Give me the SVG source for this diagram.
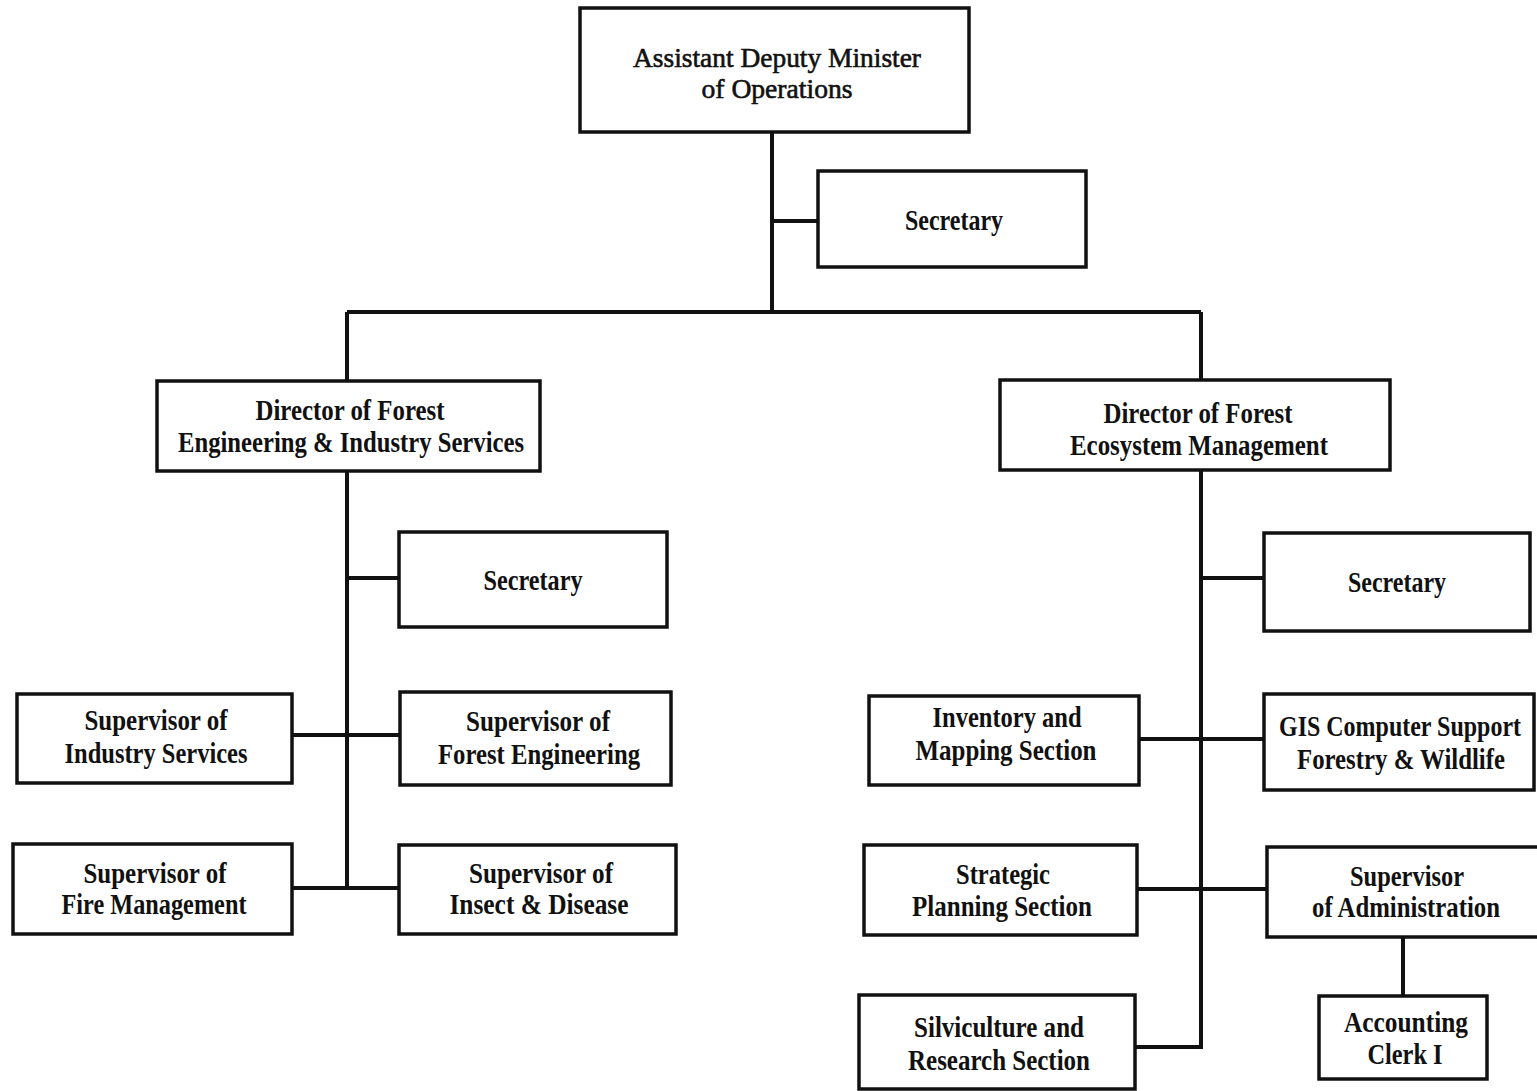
<svg xmlns="http://www.w3.org/2000/svg" width="1537" height="1091" viewBox="0 0 1537 1091">
  <style>
    .box { fill: #ffffff; stroke: #111111; stroke-width: 3.5; }
    .lbl { font-family: "Liberation Serif", "Times New Roman", serif; font-weight: bold; font-size: 29px; fill: #111111; text-anchor: middle; }
    .top { font-weight: normal; font-size: 27px; stroke: #111111; stroke-width: 0.6; }
    .tight { font-size: 24px; }
    .wire { fill: none; stroke: #111111; stroke-width: 4; }
  </style>
  <rect x="0" y="0" width="1537" height="1091" fill="#ffffff"/>

  <!-- reporting lines -->
  <g id="connectors">
    <path class="wire" d="M772 132 V312"/>
    <path class="wire" d="M772 221 H818"/>
    <path class="wire" d="M347 312 H1201"/>
    <path class="wire" d="M347 312 V381"/>
    <path class="wire" d="M1201 312 V380"/>
    <!-- left branch -->
    <path class="wire" d="M347 471 V888"/>
    <path class="wire" d="M347 578 H399"/>
    <path class="wire" d="M292 735 H400"/>
    <path class="wire" d="M292 888 H399"/>
    <!-- right branch -->
    <path class="wire" d="M1201 470 V1047 H1135"/>
    <path class="wire" d="M1201 578 H1264"/>
    <path class="wire" d="M1139 739 H1264"/>
    <path class="wire" d="M1137 889 H1267"/>
    <path class="wire" d="M1403 937 V996"/>
  </g>

  <g id="adm">
    <rect class="box" x="580" y="8" width="389" height="124"/>
    <text class="lbl top" x="777" y="67" textLength="288" lengthAdjust="spacingAndGlyphs">Assistant Deputy Minister</text>
    <text class="lbl top" x="777" y="98" textLength="151" lengthAdjust="spacingAndGlyphs">of Operations</text>
  </g>
  <g id="secretary-adm">
    <rect class="box" x="818" y="171" width="268" height="96"/>
    <text class="lbl" x="954" y="230" textLength="98" lengthAdjust="spacingAndGlyphs">Secretary</text>
  </g>

  <g id="director-engineering">
    <rect class="box" x="157" y="381" width="383" height="90"/>
    <text class="lbl" x="350" y="420" textLength="189" lengthAdjust="spacingAndGlyphs">Director of Forest</text>
    <text class="lbl" x="351" y="452" textLength="346" lengthAdjust="spacingAndGlyphs">Engineering &amp; Industry Services</text>
  </g>
  <g id="director-ecosystem">
    <rect class="box" x="1000" y="380" width="390" height="90"/>
    <text class="lbl" x="1198" y="423" textLength="189" lengthAdjust="spacingAndGlyphs">Director of Forest</text>
    <text class="lbl" x="1199" y="455" textLength="258" lengthAdjust="spacingAndGlyphs">Ecosystem Management</text>
  </g>

  <g id="secretary-engineering">
    <rect class="box" x="399" y="532" width="268" height="95"/>
    <text class="lbl" x="533" y="590" textLength="99" lengthAdjust="spacingAndGlyphs">Secretary</text>
  </g>
  <g id="industry-services">
    <rect class="box" x="17" y="694" width="275" height="89"/>
    <text class="lbl" x="156" y="730" textLength="143" lengthAdjust="spacingAndGlyphs">Supervisor of</text>
    <text class="lbl" x="156" y="763" textLength="183" lengthAdjust="spacingAndGlyphs">Industry Services</text>
  </g>
  <g id="forest-engineering">
    <rect class="box" x="400" y="692" width="271" height="93"/>
    <text class="lbl" x="538" y="731" textLength="144" lengthAdjust="spacingAndGlyphs">Supervisor of</text>
    <text class="lbl" x="539" y="764" textLength="202" lengthAdjust="spacingAndGlyphs">Forest Engineering</text>
  </g>
  <g id="fire-management">
    <rect class="box" x="13" y="844" width="279" height="90"/>
    <text class="lbl" x="155" y="883" textLength="143" lengthAdjust="spacingAndGlyphs">Supervisor of</text>
    <text class="lbl" x="154" y="914" textLength="185" lengthAdjust="spacingAndGlyphs">Fire Management</text>
  </g>
  <g id="insect-disease">
    <rect class="box" x="399" y="845" width="277" height="89"/>
    <text class="lbl" x="541" y="883" textLength="144" lengthAdjust="spacingAndGlyphs">Supervisor of</text>
    <text class="lbl" x="539" y="914" textLength="179" lengthAdjust="spacingAndGlyphs">Insect &amp; Disease</text>
  </g>

  <g id="secretary-ecosystem">
    <rect class="box" x="1264" y="533" width="266" height="98"/>
    <text class="lbl" x="1397" y="592" textLength="98" lengthAdjust="spacingAndGlyphs">Secretary</text>
  </g>
  <g id="inventory-mapping">
    <rect class="box" x="869" y="696" width="270" height="89"/>
    <text class="lbl" x="1007" y="727" textLength="149" lengthAdjust="spacingAndGlyphs">Inventory and</text>
    <text class="lbl" x="1006" y="760" textLength="181" lengthAdjust="spacingAndGlyphs">Mapping Section</text>
  </g>
  <g id="gis-support">
    <rect class="box" x="1264" y="694" width="270" height="96"/>
    <!-- taller condensed lettering: small size stretched vertically -->
    <text class="lbl tight" transform="translate(1400 736) scale(1 1.2)" textLength="242" lengthAdjust="spacingAndGlyphs">GIS Computer Support</text>
    <text class="lbl tight" transform="translate(1401 769) scale(1 1.2)" textLength="208" lengthAdjust="spacingAndGlyphs">Forestry &amp; Wildlife</text>
  </g>
  <g id="strategic-planning">
    <rect class="box" x="864" y="845" width="273" height="90"/>
    <text class="lbl" x="1003" y="884" textLength="94" lengthAdjust="spacingAndGlyphs">Strategic</text>
    <text class="lbl" x="1002" y="916" textLength="180" lengthAdjust="spacingAndGlyphs">Planning Section</text>
  </g>
  <g id="administration">
    <rect class="box" x="1267" y="847" width="285" height="90"/>
    <text class="lbl" x="1407" y="886" textLength="114" lengthAdjust="spacingAndGlyphs">Supervisor</text>
    <text class="lbl" x="1406" y="917" textLength="188" lengthAdjust="spacingAndGlyphs">of Administration</text>
  </g>
  <g id="silviculture-research">
    <rect class="box" x="859" y="995" width="276" height="94"/>
    <text class="lbl" x="999" y="1037" textLength="170" lengthAdjust="spacingAndGlyphs">Silviculture and</text>
    <text class="lbl" x="999" y="1070" textLength="182" lengthAdjust="spacingAndGlyphs">Research Section</text>
  </g>
  <g id="accounting-clerk">
    <rect class="box" x="1319" y="996" width="168" height="83"/>
    <text class="lbl" x="1406" y="1032" textLength="124" lengthAdjust="spacingAndGlyphs">Accounting</text>
    <text class="lbl" x="1405" y="1064" textLength="75" lengthAdjust="spacingAndGlyphs">Clerk I</text>
  </g>
</svg>
